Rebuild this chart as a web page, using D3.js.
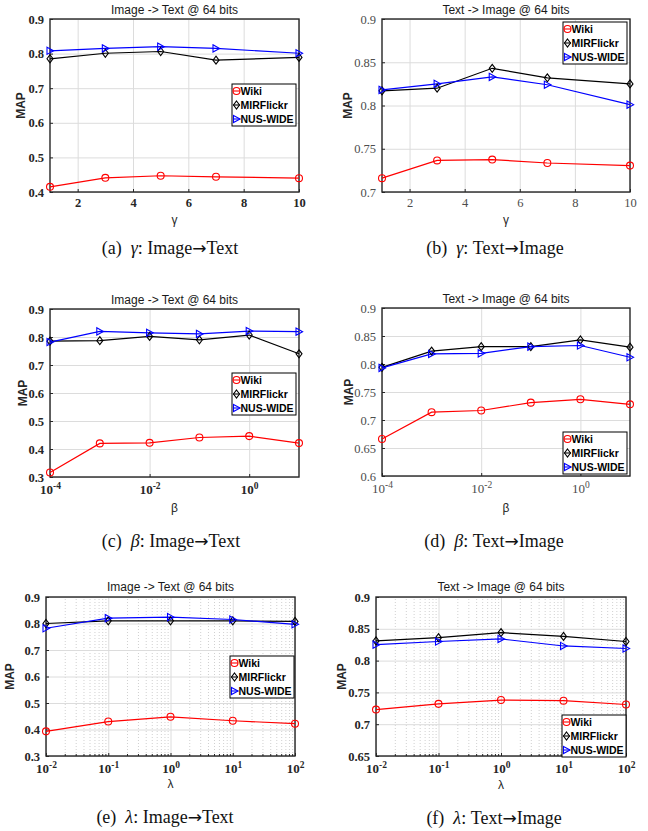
<!DOCTYPE html>
<html><head><meta charset="utf-8">
<script src="https://cdn.jsdelivr.net/npm/d3@7"></script>
<style>
body{margin:0;background:#fff;}
svg{display:block;}
</style>
</head><body>
<script>
// ---------- data ----------
const seriesNames = ["Wiki", "MIRFlickr", "NUS-WIDE"];
const gammaX = [1, 3, 5, 7, 10];
const betaX = [1e-4, 1e-3, 1e-2, 1e-1, 1, 10];
const lambdaX = [0.01, 0.1, 1, 10, 100];

const aWiki = [0.415, 0.441, 0.447, 0.444, 0.440];
const aMIR  = [0.785, 0.801, 0.806, 0.781, 0.789];
const aNUS  = [0.808, 0.815, 0.820, 0.815, 0.801];

const bWiki = [0.716, 0.7365, 0.7375, 0.7335, 0.7305];
const bMIR  = [0.817, 0.820, 0.843, 0.832, 0.825];
const bNUS  = [0.818, 0.825, 0.833, 0.824, 0.801];

const cWiki = [0.316, 0.420, 0.422, 0.441, 0.446, 0.421];
const cMIR  = [0.785, 0.787, 0.802, 0.790, 0.807, 0.740];
const cNUS  = [0.782, 0.820, 0.815, 0.811, 0.821, 0.819];

const dWiki = [0.666, 0.714, 0.717, 0.731, 0.737, 0.728];
const dMIR  = [0.794, 0.823, 0.831, 0.831, 0.843, 0.830];
const dNUS  = [0.793, 0.818, 0.819, 0.831, 0.833, 0.812];

const eWiki = [0.393, 0.430, 0.448, 0.433, 0.422];
const eMIR  = [0.800, 0.810, 0.810, 0.810, 0.808];
const eNUS  = [0.782, 0.820, 0.824, 0.815, 0.797];

const fWiki = [0.723, 0.732, 0.738, 0.737, 0.731];
const fMIR  = [0.831, 0.836, 0.844, 0.838, 0.830];
const fNUS  = [0.825, 0.830, 0.834, 0.823, 0.819];

const yTicksA = [0.4, 0.5, 0.6, 0.7, 0.8, 0.9];
const yTicksB = [0.7, 0.75, 0.8, 0.85, 0.9];
const yTicksC = [0.3, 0.4, 0.5, 0.6, 0.7, 0.8, 0.9];
const yTicksD = [0.6, 0.65, 0.7, 0.75, 0.8, 0.85, 0.9];
const yTicksF = [0.65, 0.7, 0.75, 0.8, 0.85, 0.9];
const gammaTicks = [2, 4, 6, 8, 10];
const betaTicks = [1e-4, 1e-2, 1];
const lambdaTicks = [0.01, 0.1, 1, 10, 100];

const titleIT = "Image -> Text @ 64 bits";
const titleTI = "Text -> Image @ 64 bits";

// ---------- styling ----------
const colors = ["#ff0000", "#000000", "#0000ff"];
const markers = ["circle", "diamond", "triangle"];

const svg = d3.select("body").append("svg").attr("width", 648).attr("height", 831);

function markerPath(type) {
  if (type === "circle") return d3.symbol().type(d3.symbolCircle).size(38)();
  if (type === "diamond") return "M0,-4L3,0L0,4L-3,0Z";
  return "M-3,-3.6L3.6,0L-3,3.6Z";
}

function fmtNum(v) { return String(parseFloat(v.toFixed(2))); }

function drawPanel(p) {
  const g = svg.append("g");
  const W = p.R - p.L, H = p.B - p.T;
  const x = (p.log ? d3.scaleLog() : d3.scaleLinear()).domain(p.xDomain).range([p.L, p.R]);
  const y = d3.scaleLinear().domain([p.yTicks[0], p.yTicks[p.yTicks.length - 1]]).range([p.B, p.T]);

  // minor grid (log)
  if (p.minor) {
    const minorVals = [];
    const d0 = Math.round(Math.log10(p.xDomain[0])), d1 = Math.round(Math.log10(p.xDomain[1]));
    for (let d = d0; d < d1; d++) for (let k = 2; k <= 9; k++) minorVals.push(k * Math.pow(10, d));
    const mg = g.append("g").attr("transform", `translate(0,${p.B})`)
      .call(d3.axisBottom(x).tickValues(minorVals).tickSize(-H).tickFormat(""));
    mg.select(".domain").remove();
    mg.selectAll("line").attr("stroke", "#c4c4c4").attr("stroke-dasharray", "1,2").attr("stroke-width", 0.8);
    const mt = g.append("g").attr("transform", `translate(0,${p.B})`)
      .call(d3.axisBottom(x).tickValues(minorVals).tickSize(-2).tickFormat(""));
    mt.select(".domain").remove();
    mt.selectAll("line").attr("stroke", "#262626");
  }
  // major grid
  const gx = g.append("g").attr("transform", `translate(0,${p.B})`)
    .call(d3.axisBottom(x).tickValues(p.xTicks).tickSize(-H).tickFormat(""));
  gx.select(".domain").remove();
  gx.selectAll("line").attr("stroke", "#dcdcdc").attr("stroke-width", 1);
  const gy = g.append("g").attr("transform", `translate(${p.L},0)`)
    .call(d3.axisLeft(y).tickValues(p.yTicks).tickSize(-W).tickFormat(""));
  gy.select(".domain").remove();
  gy.selectAll("line").attr("stroke", "#dcdcdc").attr("stroke-width", 1);

  // box
  g.append("rect").attr("x", p.L).attr("y", p.T).attr("width", W).attr("height", H)
    .attr("fill", "none").attr("stroke", "#262626").attr("stroke-width", 1.4);

  const tickColor = p.bold ? "#262626" : "#4d4d4d";
  const tickWeight = p.bold ? "bold" : "normal";

  // y axis
  const ay = g.append("g").attr("transform", `translate(${p.L},0)`)
    .call(d3.axisLeft(y).tickValues(p.yTicks).tickSizeInner(-3).tickSizeOuter(0).tickPadding(6).tickFormat(fmtNum));
  ay.select(".domain").remove();
  ay.selectAll("line").attr("stroke", "#262626");
  ay.selectAll("text").attr("font-family", "'Liberation Serif', serif").attr("font-size", 12.5)
    .attr("font-weight", tickWeight).attr("fill", tickColor);

  // x axis
  const ax = g.append("g").attr("transform", `translate(0,${p.B})`)
    .call(d3.axisBottom(x).tickValues(p.xTicks).tickSizeInner(-3).tickSizeOuter(0).tickPadding(p.log ? 8 : 6)
      .tickFormat(p.log ? (d => "10") : (d => String(d))));
  ax.select(".domain").remove();
  ax.selectAll("line").attr("stroke", "#262626");
  ax.selectAll("text").attr("font-family", "'Liberation Serif', serif").attr("font-size", p.log ? 13 : 12.5)
    .attr("font-weight", tickWeight).attr("fill", tickColor);
  if (p.log) {
    ax.selectAll("text").each(function (d) {
      const e = Math.round(Math.log10(d));
      d3.select(this).append("tspan").attr("dy", -5).attr("font-size", 9.5).text(String(e));
    });
  }

  // series
  const series = [p.wiki, p.mir, p.nus];
  const line = d3.line().x((d, i) => x(p.xs[i])).y(d => y(d));
  series.forEach((vals, si) => {
    g.append("path").datum(vals).attr("d", line).attr("fill", "none")
      .attr("stroke", colors[si]).attr("stroke-width", 1.2);
  });
  series.forEach((vals, si) => {
    g.selectAll(null).data(vals).enter().append("path")
      .attr("d", markerPath(markers[si]))
      .attr("transform", (d, i) => `translate(${x(p.xs[i])},${y(d)})`)
      .attr("fill", "none").attr("stroke", colors[si]).attr("stroke-width", 1.1);
  });

  // title
  g.append("text").attr("x", (p.L + p.R) / 2).attr("y", p.titleY).attr("text-anchor", "middle")
    .attr("dominant-baseline", "central")
    .attr("font-family", "'Liberation Sans', Arial, sans-serif").attr("font-size", 12).attr("fill", "#1a1a1a")
    .text(p.title);
  // x label
  g.append("text").attr("x", (p.L + p.R) / 2).attr("y", p.B + p.xLabOff).attr("text-anchor", "middle")
    .attr("dominant-baseline", "central")
    .attr("font-family", "'Liberation Sans', Arial, sans-serif").attr("font-size", 12).attr("fill", "#262626")
    .text(p.xLabel);
  // y label
  g.append("text").attr("transform", `translate(${p.L + p.mapOff},${(p.T + p.B) / 2}) rotate(-90)`)
    .attr("text-anchor", "middle").attr("dominant-baseline", "central")
    .attr("font-family", "'Liberation Sans', Arial, sans-serif").attr("font-size", 12).attr("font-weight", "bold")
    .attr("fill", "#262626").text("MAP");

  // legend
  const lg = g.append("g").attr("transform", `translate(${p.leg[0]},${p.leg[1]})`);
  lg.append("rect").attr("width", 64).attr("height", 42).attr("fill", "#fff")
    .attr("stroke", "#000").attr("stroke-width", 1);
  seriesNames.forEach((nm, si) => {
    const ry = 7 + si * 14;
    lg.append("line").attr("x1", 1).attr("x2", 8).attr("y1", ry).attr("y2", ry)
      .attr("stroke", colors[si]).attr("stroke-width", 1.1);
    lg.append("path").attr("d", markerPath(markers[si])).attr("transform", `translate(4.5,${ry})`)
      .attr("fill", "none").attr("stroke", colors[si]).attr("stroke-width", 1.1);
    lg.append("text").attr("x", 8.5).attr("y", ry).attr("dominant-baseline", "central")
      .attr("font-family", "'Liberation Sans', Arial, sans-serif").attr("font-size", 10.5)
      .attr("font-weight", "bold").attr("fill", "#000").text(nm);
  });

  // caption
  const cap = svg.append("text").attr("x", p.cap[0]).attr("y", p.cap[1]).attr("text-anchor", "middle")
    .attr("dominant-baseline", "central")
    .attr("font-family", "'Liberation Serif', 'Times New Roman', serif").attr("font-size", 18).attr("fill", "#111");
  cap.append("tspan").text(p.capLabel + "\u00a0\u00a0");
  cap.append("tspan").attr("font-style", "italic").text(p.capSym);
  cap.append("tspan").text(": " + p.capText[0]);
  cap.append("tspan").attr("font-family", "'DejaVu Sans', sans-serif").attr("font-size", 17).text("\u2192");
  cap.append("tspan").text(p.capText[1]);
}

const panels = [
  {L: 50, R: 299, T: 19, B: 192, log: false, xDomain: [1, 10], xTicks: gammaTicks, xs: gammaX, yTicks: yTicksA,
   wiki: aWiki, mir: aMIR, nus: aNUS, bold: true, title: titleIT, titleY: 10, xLabel: "\u03b3", xLabOff: 28,
   mapOff: -29, leg: [232, 84], cap: [170, 248], capLabel: "(a)", capSym: "\u03b3", capText: ["Image", "Text"]},
  {L: 382, R: 630, T: 19, B: 192, log: false, xDomain: [1, 10], xTicks: gammaTicks, xs: gammaX, yTicks: yTicksB,
   wiki: bWiki, mir: bMIR, nus: bNUS, bold: false, title: titleTI, titleY: 10, xLabel: "\u03b3", xLabOff: 28,
   mapOff: -34, leg: [563, 22], cap: [495, 248], capLabel: "(b)", capSym: "\u03b3", capText: ["Text", "Image"]},
  {L: 50, R: 299, T: 309, B: 477, log: true, xDomain: [1e-4, 10], xTicks: betaTicks, xs: betaX, yTicks: yTicksC,
   wiki: cWiki, mir: cMIR, nus: cNUS, bold: true, title: titleIT, titleY: 300, xLabel: "\u03b2", xLabOff: 31,
   mapOff: -27, leg: [232, 373], cap: [171, 541], capLabel: "(c)", capSym: "\u03b2", capText: ["Image", "Text"]},
  {L: 382, R: 630, T: 308, B: 476, log: true, xDomain: [1e-4, 10], xTicks: betaTicks, xs: betaX, yTicks: yTicksD,
   wiki: dWiki, mir: dMIR, nus: dNUS, bold: false, title: titleTI, titleY: 299, xLabel: "\u03b2", xLabOff: 32,
   mapOff: -33, leg: [563, 432], cap: [494, 541], capLabel: "(d)", capSym: "\u03b2", capText: ["Text", "Image"]},
  {L: 46, R: 295, T: 597, B: 756, log: true, minor: true, xDomain: [0.01, 100], xTicks: lambdaTicks, xs: lambdaX, yTicks: yTicksC,
   wiki: eWiki, mir: eMIR, nus: eNUS, bold: true, title: titleIT, titleY: 587, xLabel: "\u03bb", xLabOff: 28,
   mapOff: -36, leg: [230, 656], cap: [165, 817], capLabel: "(e)", capSym: "\u03bb", capText: ["Image", "Text"]},
  {L: 376, R: 626, T: 597, B: 756, log: true, minor: true, xDomain: [0.01, 100], xTicks: lambdaTicks, xs: lambdaX, yTicks: yTicksF,
   wiki: fWiki, mir: fMIR, nus: fNUS, bold: true, title: titleTI, titleY: 587, xLabel: "\u03bb", xLabOff: 29,
   mapOff: -34, leg: [562, 715], cap: [494, 818], capLabel: "(f)", capSym: "\u03bb", capText: ["Text", "Image"]}
];
panels.forEach(drawPanel);
</script>
</body></html>
